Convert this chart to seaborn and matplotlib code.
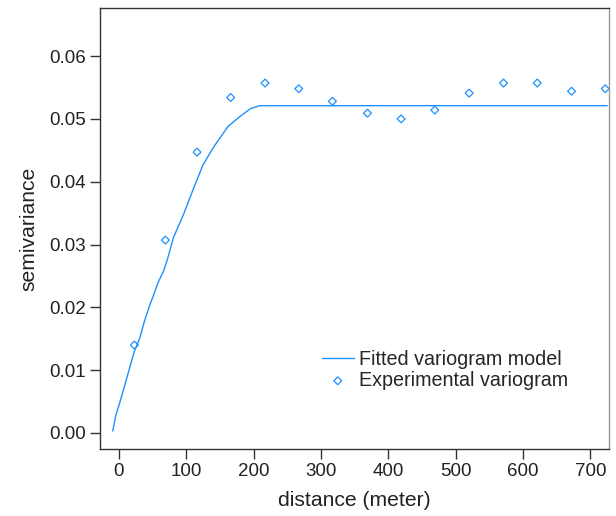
import numpy as np
import pandas as pd
import matplotlib
matplotlib.use('Agg')
import matplotlib.pyplot as plt
import seaborn as sns

# 实验变异函数（点）
lag_dist = [23, 69, 116, 166, 217, 267, 317, 369, 419, 469, 520, 571, 621, 672, 722]
semivar = [0.0140, 0.0307, 0.0447, 0.0534, 0.0557, 0.0548, 0.0528, 0.0509,
           0.0500, 0.0514, 0.0541, 0.0557, 0.0557, 0.0544, 0.0548]

# 拟合模型曲线
fit_dist = [-9, -5, 4, 14, 23, 31, 38, 46, 51, 58, 66, 72, 81, 96, 110, 125,
            140, 162, 180, 195, 209, 725]
fit_semivar = [0.0003, 0.0026, 0.0058, 0.0096, 0.0130, 0.0151, 0.0178, 0.0204,
               0.0218, 0.0239, 0.0257, 0.0276, 0.0311, 0.0348, 0.0387, 0.0427,
               0.0454, 0.0488, 0.0504, 0.0516, 0.0521, 0.0521]

x_ticks = [0, 100, 200, 300, 400, 500, 600, 700]
y_ticks = [0.00, 0.01, 0.02, 0.03, 0.04, 0.05, 0.06]

sns.set_theme(style='ticks')
plt.rcParams['font.family'] = ['Liberation Sans', 'DejaVu Sans']

blue = '#1E90FF'
fs_tick = 13.5
fs_label = 15.2
fs_legend = 14.2

fig = plt.figure(figsize=(6.16, 5.16), dpi=100)
ax = fig.add_axes([100 / 616, 1 - 449.3 / 516, 509.3 / 616, 441 / 516])

fit_df = pd.DataFrame({'distance': fit_dist, 'semivariance': fit_semivar})
exp_df = pd.DataFrame({'distance': lag_dist, 'semivariance': semivar})

sns.lineplot(data=fit_df, x='distance', y='semivariance', ax=ax, color=blue,
             linewidth=1.0, label='Fitted variogram model', sort=False)
sns.scatterplot(data=exp_df, x='distance', y='semivariance', ax=ax, marker='D',
                s=16, facecolor='none', edgecolor=blue, linewidth=0.9,
                label='Experimental variogram')

ax.set_xlim(-28, 728)
ax.set_ylim(-0.0026, 0.0676)
ax.set_xticks(x_ticks)
ax.set_yticks(y_ticks)
ax.set_yticklabels([f'{v:.2f}' for v in y_ticks])
ax.tick_params(axis='both', labelsize=fs_tick, length=7, width=1, color='#333333',
               labelcolor='#222222', pad=3)
ax.set_xlabel('distance (meter)', fontsize=fs_label, color='#222222', labelpad=8)
ax.set_ylabel('semivariance', fontsize=fs_label, color='#222222', labelpad=8)

for side in ['left', 'top', 'bottom']:
    ax.spines[side].set_color('#333333')
    ax.spines[side].set_linewidth(1)
ax.spines['right'].set_visible(True)
ax.spines['right'].set_color('#999999')
ax.spines['right'].set_linewidth(1)

ax.legend(loc='upper left', bbox_to_anchor=(322 / 616, 1 - 350 / 516),
          bbox_transform=fig.transFigure, frameon=False, fontsize=fs_legend,
          handlelength=1.6, handletextpad=0.3, labelspacing=0.1,
          borderpad=0, borderaxespad=0, markerscale=1.0)

fig.savefig('out.png', dpi=100)
